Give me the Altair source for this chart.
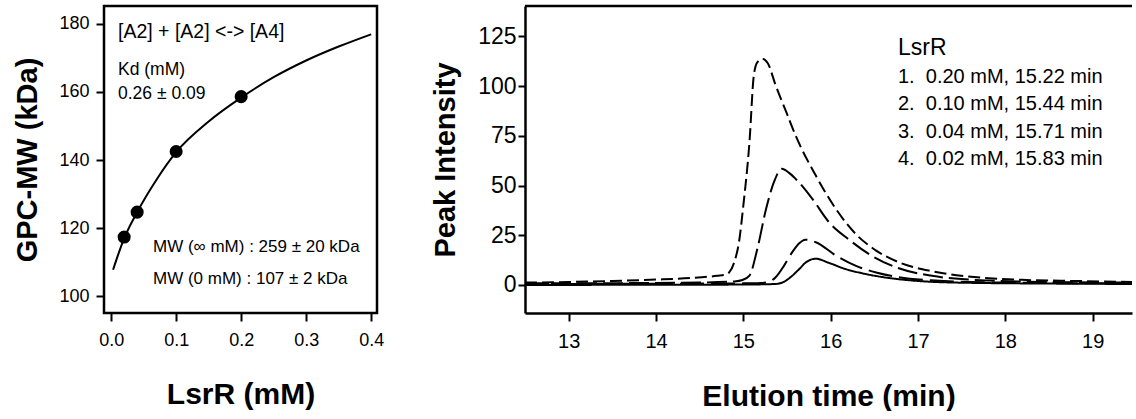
import altair as alt
import pandas as pd

FONT = "Liberation Sans"

# ---------------- Left panel data ----------------
pts_x = [0.02, 0.04, 0.10, 0.20]
pts_y = [117.4, 124.7, 142.5, 158.6]

fit_x = [0.003, 0.01, 0.02, 0.04, 0.07, 0.10, 0.15, 0.20, 0.25, 0.30, 0.35, 0.40]
fit_y = [107.8, 111.8, 117.0, 124.7, 134.3, 142.3, 151.3, 158.3, 164.3, 169.2, 173.3, 176.9]

# ---------------- Right panel data ----------------
s1_t = [12.5, 13.0, 13.5, 14.0, 14.4, 14.7, 14.8, 14.84, 14.9, 14.95, 15.0, 15.07, 15.12, 15.16, 15.22,
        15.28, 15.37, 15.5, 15.6, 15.83, 16.06, 16.29, 16.52, 16.78, 17.16, 17.55, 18.19, 18.8, 19.45]
s1_v = [1.2, 1.5, 2.0, 2.7, 3.5, 4.6, 5.2, 6.4, 12.0, 21.5, 40.0, 71.8, 105.4, 112.0, 113.7,
        111.5, 100.4, 86.0, 75.0, 55.0, 38.2, 25.5, 17.3, 11.4, 6.9, 4.4, 2.6, 2.0, 1.5]

s2_t = [12.5, 13.5, 14.5, 14.9, 14.99, 15.07, 15.16, 15.26, 15.35, 15.44, 15.52, 15.6, 15.79, 15.98,
        16.21, 16.44, 16.78, 17.16, 17.81, 18.5, 19.45]
s2_v = [0.8, 0.9, 1.2, 1.8, 2.5, 4.7, 18.1, 38.2, 51.7, 58.4, 56.5, 53.3, 43.3, 31.6,
        22.8, 15.5, 8.4, 4.6, 2.2, 1.5, 1.2]

s3_t = [12.5, 14.0, 15.0, 15.2, 15.29, 15.37, 15.47, 15.56, 15.64, 15.71, 15.83, 16.06, 16.29, 16.52,
        16.78, 17.2, 17.5, 18.0, 19.45]
s3_v = [0.5, 0.6, 0.8, 1.0, 1.5, 3.9, 10.0, 16.5, 21.0, 22.8, 21.5, 14.8, 9.6, 6.3,
        3.9, 2.2, 1.6, 1.2, 0.8]

s4_t = [12.5, 14.0, 15.0, 15.37, 15.47, 15.54, 15.64, 15.72, 15.83, 15.98, 16.17, 16.36, 16.52, 16.78,
        17.0, 17.43, 18.5, 19.45]
s4_v = [0.0, 0.1, 0.2, 0.5, 1.7, 3.9, 8.0, 11.5, 13.2, 11.1, 8.0, 5.9, 4.5, 2.9,
        2.0, 1.2, 0.7, 0.5]

series_names = ["1", "2", "3", "4"]
legend_title = "LsrR"
legend_lines = ["1.\u00a0 0.20 mM, 15.22 min", "2.\u00a0 0.10 mM, 15.44 min",
                "3.\u00a0 0.04 mM, 15.71 min", "4.\u00a0 0.02 mM, 15.83 min"]

left_notes = ["[A2] + [A2] <-> [A4]", "Kd (mM)", "0.26 \u00b1 0.09",
              "MW (\u221e mM) : 259 \u00b1 20 kDa", "MW (0 mM) : 107 \u00b1 2 kDa"]

LW, LH = 273, 307
RW, RH = 607, 307

# ---------------- Left panel ----------------
fit_df = pd.DataFrame({"x": fit_x, "y": fit_y})
pts_df = pd.DataFrame({"x": pts_x, "y": pts_y})

xl = alt.X("x:Q", scale=alt.Scale(domain=[-0.011, 0.409], nice=False, zero=False),
           axis=alt.Axis(values=[0, 0.1, 0.2, 0.3, 0.4], format=".1f", title="LsrR (mM)",
                         labelFontSize=18, titleFontSize=30, titlePadding=30, labelPadding=10,
                         tickSize=8, tickWidth=2, domain=False, grid=False))
yl = alt.Y("y:Q", scale=alt.Scale(domain=[95.1, 185.2], nice=False, zero=False),
           axis=alt.Axis(values=[100, 120, 140, 160, 180], title="GPC-MW (kDa)",
                         labelFontSize=18, titleFontSize=29, titlePadding=16, labelPadding=7,
                         tickSize=8, tickWidth=2, domain=False, grid=False))

curve = alt.Chart(fit_df).mark_line(color="black", strokeWidth=2, interpolate="monotone").encode(x=xl, y=yl)
dots = alt.Chart(pts_df).mark_circle(color="black", size=170, opacity=1).encode(x="x:Q", y="y:Q")

note_pos = [(14, 26, 19.5), (14, 64, 17.5), (14, 88, 17.5), (49, 241, 17), (49, 273, 17)]
notes = []
for txt, (px, py, fs) in zip(left_notes, note_pos):
    notes.append(
        alt.Chart(pd.DataFrame({"t": [txt]})).mark_text(
            align="left", baseline="middle", fontSize=fs, font=FONT, color="black"
        ).encode(x=alt.value(px), y=alt.value(py), text="t:N")
    )

left = alt.layer(curve, dots, *notes).properties(
    width=LW, height=LH, view=alt.ViewBackground(stroke="black", strokeWidth=2.5))

# ---------------- Right panel ----------------
rows = []
for name, ts, vs in zip(series_names, [s1_t, s2_t, s3_t, s4_t], [s1_v, s2_v, s3_v, s4_v]):
    for t, v in zip(ts, vs):
        rows.append({"series": name, "t": t, "v": v})
gpc = pd.DataFrame(rows)

xr = alt.X("t:Q", scale=alt.Scale(domain=[12.5, 19.45], nice=False, zero=False),
           axis=alt.Axis(values=[13, 14, 15, 16, 17, 18, 19], title="Elution time (min)",
                         labelFontSize=20, titleFontSize=30, titlePadding=30, labelPadding=10,
                         tickSize=8, tickWidth=2, domain=True, domainWidth=2.5, domainColor="black",
                         grid=False))
yr = alt.Y("v:Q", scale=alt.Scale(domain=[-14.1, 140.3], nice=False, zero=False),
           axis=alt.Axis(values=[0, 25, 50, 75, 100, 125], title="Peak Intensity",
                         labelFontSize=23, titleFontSize=29, titlePadding=17, labelPadding=2,
                         tickSize=7, tickWidth=2, domain=True, domainWidth=2.5, domainColor="black",
                         grid=False))

lines = alt.Chart(gpc).mark_line(color="black", strokeWidth=2, interpolate="monotone").encode(
    x=xr, y=yr,
    detail="series:N",
    strokeDash=alt.StrokeDash("series:N", scale=alt.Scale(domain=series_names,
                              range=[[12, 5], [20, 6], [24, 7], [1, 0]]), legend=None),
)

top_rule = alt.Chart(pd.DataFrame({"a": [0]})).mark_rule(color="black", strokeWidth=2.5).encode(
    x=alt.value(0), x2=alt.value(RW), y=alt.value(0))

leg = [alt.Chart(pd.DataFrame({"t": [legend_title]})).mark_text(
    align="left", baseline="middle", fontSize=23, font=FONT, color="black"
).encode(x=alt.value(373), y=alt.value(42), text="t:N")]
for i, txt in enumerate(legend_lines):
    leg.append(alt.Chart(pd.DataFrame({"t": [txt]})).mark_text(
        align="left", baseline="middle", fontSize=20, font=FONT, color="black"
    ).encode(x=alt.value(373), y=alt.value(71 + i * 27.4), text="t:N"))

right = alt.layer(lines, top_rule, *leg).properties(
    width=RW, height=RH, view=alt.ViewBackground(strokeOpacity=0, strokeWidth=0))

chart = alt.hconcat(left, right, spacing=46).properties(
    padding={"left": 12, "top": 4, "right": 0, "bottom": 0}
).configure(font=FONT).configure_axis(
    labelFont=FONT, titleFont=FONT, labelColor="black", titleColor="black",
    tickColor="black", titleFontWeight="bold"
)

chart.save("out.html", embed_options={"renderer": "svg", "actions": False})
